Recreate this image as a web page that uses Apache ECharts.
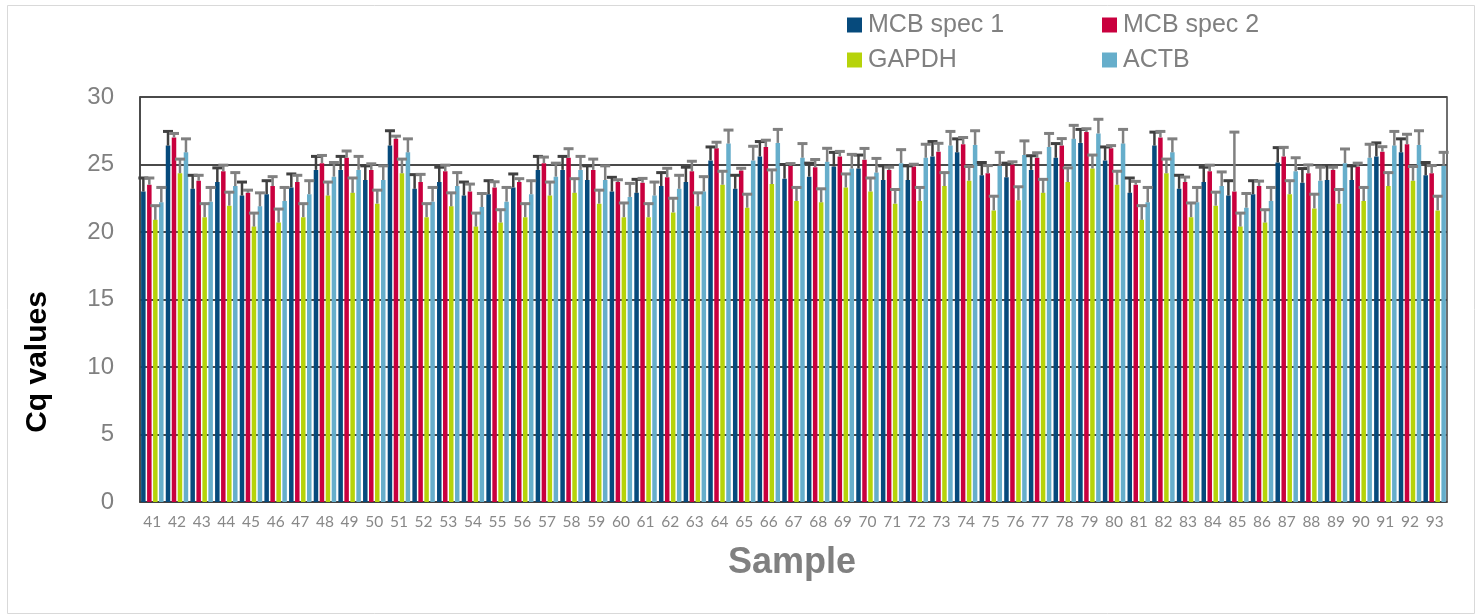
<!DOCTYPE html>
<html><head><meta charset="utf-8">
<script src="https://cdn.jsdelivr.net/npm/echarts@6/dist/echarts.min.js"></script>
<style>html,body{margin:0;padding:0;background:#fff}#c{width:1478px;height:615px}</style>
</head><body><div id="c"></div>
<script>
const samples = ['41','42','43','44','45','46','47','48','49','50','51','52','53','54','55','56','57','58','59','60','61','62','63','64','65','66','67','68','69','70','71','72','73','74','75','76','77','78','79','80','81','82','83','84','85','86','87','88','89','90','91','92','93'];

const mcb1 = [23.0,26.4,23.2,23.7,22.7,22.8,23.3,24.6,24.6,23.85,26.4,23.2,23.7,22.7,22.8,23.3,24.6,24.6,23.85,23.0,22.9,23.4,23.7,25.3,23.2,25.6,23.95,24.1,24.85,24.7,23.85,23.85,25.6,25.9,24.2,24.05,24.6,25.5,26.6,25.3,22.9,26.4,23.2,23.7,22.7,22.8,25.15,23.65,23.85,23.85,25.6,25.9,24.2];
const mcb1Err = [1.0,1.05,1.0,1.05,1.0,1.0,1.0,1.0,1.0,1.05,1.1,1.05,1.1,1.0,1.0,1.0,1.0,1.0,1.05,1.05,1.0,1.0,1.1,1.0,1.0,1.1,1.05,1.0,1.05,1.0,1.05,1.05,1.1,1.0,0.95,1.05,1.05,1.05,1.0,1.0,1.1,1.0,1.0,1.1,1.1,1.0,1.1,1.05,1.05,1.05,1.0,1.0,0.95];

const mcb2 = [23.5,27.0,23.8,24.5,22.9,23.4,23.7,25.1,25.5,24.6,26.9,23.7,24.5,23.0,23.3,23.7,25.1,25.5,24.6,23.7,23.65,24.05,24.5,26.2,24.55,26.3,24.9,24.8,25.6,25.35,24.6,24.85,25.95,26.5,24.35,25.0,25.5,26.4,27.4,26.2,23.5,27.0,23.7,24.5,23.0,23.4,25.6,24.35,24.6,24.85,25.95,26.5,24.35];
const mcb2Err = [0.5,0.3,0.4,0.45,0.2,0.7,0.5,0.57,0.5,0.45,0.2,0.57,0.45,0.55,0.42,0.25,0.45,0.67,0.8,0.17,0.32,0.67,0.74,0.45,0.17,0.5,0.17,0.57,0.37,0.84,0.2,0.17,0.62,0.5,0.57,0.2,0.37,0.52,0.25,0.2,0.25,0.45,0.37,0.45,4.4,0.37,0.67,0.62,0.2,0.25,0.37,0.74,0.57];

const gapdh = [20.9,24.35,21.1,21.95,20.4,20.7,21.1,22.7,22.9,22.1,24.35,21.1,21.9,20.4,20.7,21.1,22.7,22.9,22.1,21.1,21.1,21.45,21.9,23.5,21.8,23.55,22.3,22.2,23.3,23.0,22.1,22.3,23.4,23.8,21.6,22.35,22.9,23.7,24.7,23.5,20.9,24.35,21.1,21.95,20.4,20.7,22.8,21.75,22.1,22.3,23.4,23.8,21.6];
const gapdhErr = [1.05,1.05,1.0,1.0,1.0,1.0,1.0,1.0,1.1,1.0,1.05,1.0,1.0,1.0,0.95,1.0,1.0,1.05,1.0,1.05,1.0,1.05,1.0,1.0,1.0,1.05,1.0,1.0,1.0,1.0,1.05,1.0,1.0,1.05,1.05,1.0,1.0,1.05,1.0,1.0,1.05,1.05,1.05,1.0,1.0,0.95,1.0,1.05,1.05,1.0,1.0,1.05,1.05];

const actb = [22.2,25.9,22.25,23.4,21.9,22.3,22.8,24.1,24.6,23.85,25.9,22.25,23.4,21.85,22.25,22.8,24.1,24.6,23.85,22.6,22.7,23.2,23.0,26.55,25.3,26.6,25.5,25.2,24.7,24.4,25.1,25.5,26.4,26.45,24.9,25.7,26.3,26.9,27.3,26.55,22.2,25.9,22.2,23.4,21.8,22.3,24.5,23.8,25.1,25.5,26.4,26.45,24.9];
const actbErr = [1.1,1.0,1.05,1.0,1.0,1.0,1.0,1.05,1.0,1.05,1.0,1.05,1.0,1.0,1.05,1.0,1.0,1.0,1.05,1.0,1.0,1.0,1.1,1.0,1.05,1.0,1.05,1.0,1.05,1.05,1.0,1.0,1.05,1.05,1.0,1.05,1.0,1.0,1.05,1.05,1.1,1.0,1.1,1.05,1.05,1.0,1.0,1.0,1.05,1.0,1.05,1.05,1.0];

const yTicks = [0,5,10,15,20,25,30];

const names = ['MCB spec 1','MCB spec 2','GAPDH','ACTB'];
const colors = ['#064A7C','#C9003E','#B6D30A','#66AECB'];
const errColors = ['#404040','#808080','#808080','#808080'];
const vals = [mcb1, mcb2, gapdh, actb];
const errs = [mcb1Err, mcb2Err, gapdhErr, actbErr];

const BAR_W = 4.5, GAP = 0.33;
const step = BAR_W * (1 + GAP);

const chart = echarts.init(document.getElementById('c'), null, {renderer:'canvas'});

const series = [];
vals.forEach((v, k) => {
  series.push({
    name: names[k], type: 'bar', data: v, barWidth: BAR_W, barGap: (GAP*100)+'%',
    itemStyle: {color: colors[k]}, z: 2, silent: true
  });
});
vals.forEach((v, k) => {
  series.push({
    type: 'custom', z: 5, silent: true,
    data: v.map((y, i) => [i, y, errs[k][i]]),
    encode: {x: 0, y: 1},
    renderItem: function(params, api) {
      const i = api.value(0), y = api.value(1), e = api.value(2);
      const p0 = api.coord([i, y]);
      const p1 = api.coord([i, y + e]);
      const x = p0[0] + (k - 1.5) * step;
      const c = errColors[k];
      return {type: 'group', children: [
        {type:'line', shape:{x1:x, y1:p0[1], x2:x, y2:p1[1]}, style:{stroke:c, lineWidth:2.5}},
        {type:'line', shape:{x1:x-5, y1:p1[1], x2:x+5, y2:p1[1]}, style:{stroke:c, lineWidth:3}}
      ]};
    }
  });
});

const legendBase = {orient:'horizontal', padding:0, itemWidth:15, itemHeight:15, icon:'rect', itemGap:0,
  textStyle:{fontFamily:'Liberation Sans, Arial', fontSize:25, lineHeight:26, color:'#808080', padding:[0,0,0,1]}};

chart.setOption({
  animation: false,
  backgroundColor: '#fff',
  grid: {left:140, right:31, top:97, bottom:113, show:true, borderColor:'#404040', borderWidth:1.5, backgroundColor:'transparent'},
  legend: [
    Object.assign({}, legendBase, {left:847, top:12, data:[names[0]]}),
    Object.assign({}, legendBase, {left:1102, top:12, data:[names[1]]}),
    Object.assign({}, legendBase, {left:847, top:47, data:[names[2]]}),
    Object.assign({}, legendBase, {left:1102, top:47, data:[names[3]]})
  ],
  xAxis: {type:'category', data: samples,
    axisLine:{show:true, lineStyle:{color:'#404040', width:1.5}}, axisTick:{show:false},
    axisLabel:{fontFamily:'Lato', fontSize:15.5, color:'#888888', margin:12, interval:0}},
  yAxis: {type:'value', min:0, max:30, interval:5,
    axisLine:{show:true, lineStyle:{color:'#404040', width:1.5}}, axisTick:{show:false},
    splitLine:{show:true, lineStyle:{color:'#4a4a4a', width:1.8}},
    axisLabel:{fontFamily:'Liberation Sans, Arial', fontSize:24, color:'#808080', margin:26,
      formatter: v => yTicks.indexOf(v) >= 0 ? String(v) : ''}},
  graphic: [
    {type:'rect', left:5, top:3, shape:{width:1467, height:608}, style:{fill:'none', stroke:'#d9d9d9', lineWidth:1}, z:-1},
    {type:'text', x:38, y:362, rotation:Math.PI/2, style:{text:'Cq values', font:'bold 30px "Liberation Sans", Arial', fill:'#000', textAlign:'center', textVerticalAlign:'middle'}},
    {type:'text', x:792, y:563, style:{text:'Sample', font:'bold 36px "Liberation Sans", Arial', fill:'#808080', textAlign:'center', textVerticalAlign:'middle'}}
  ],
  series: series
});
</script>
</body></html>
